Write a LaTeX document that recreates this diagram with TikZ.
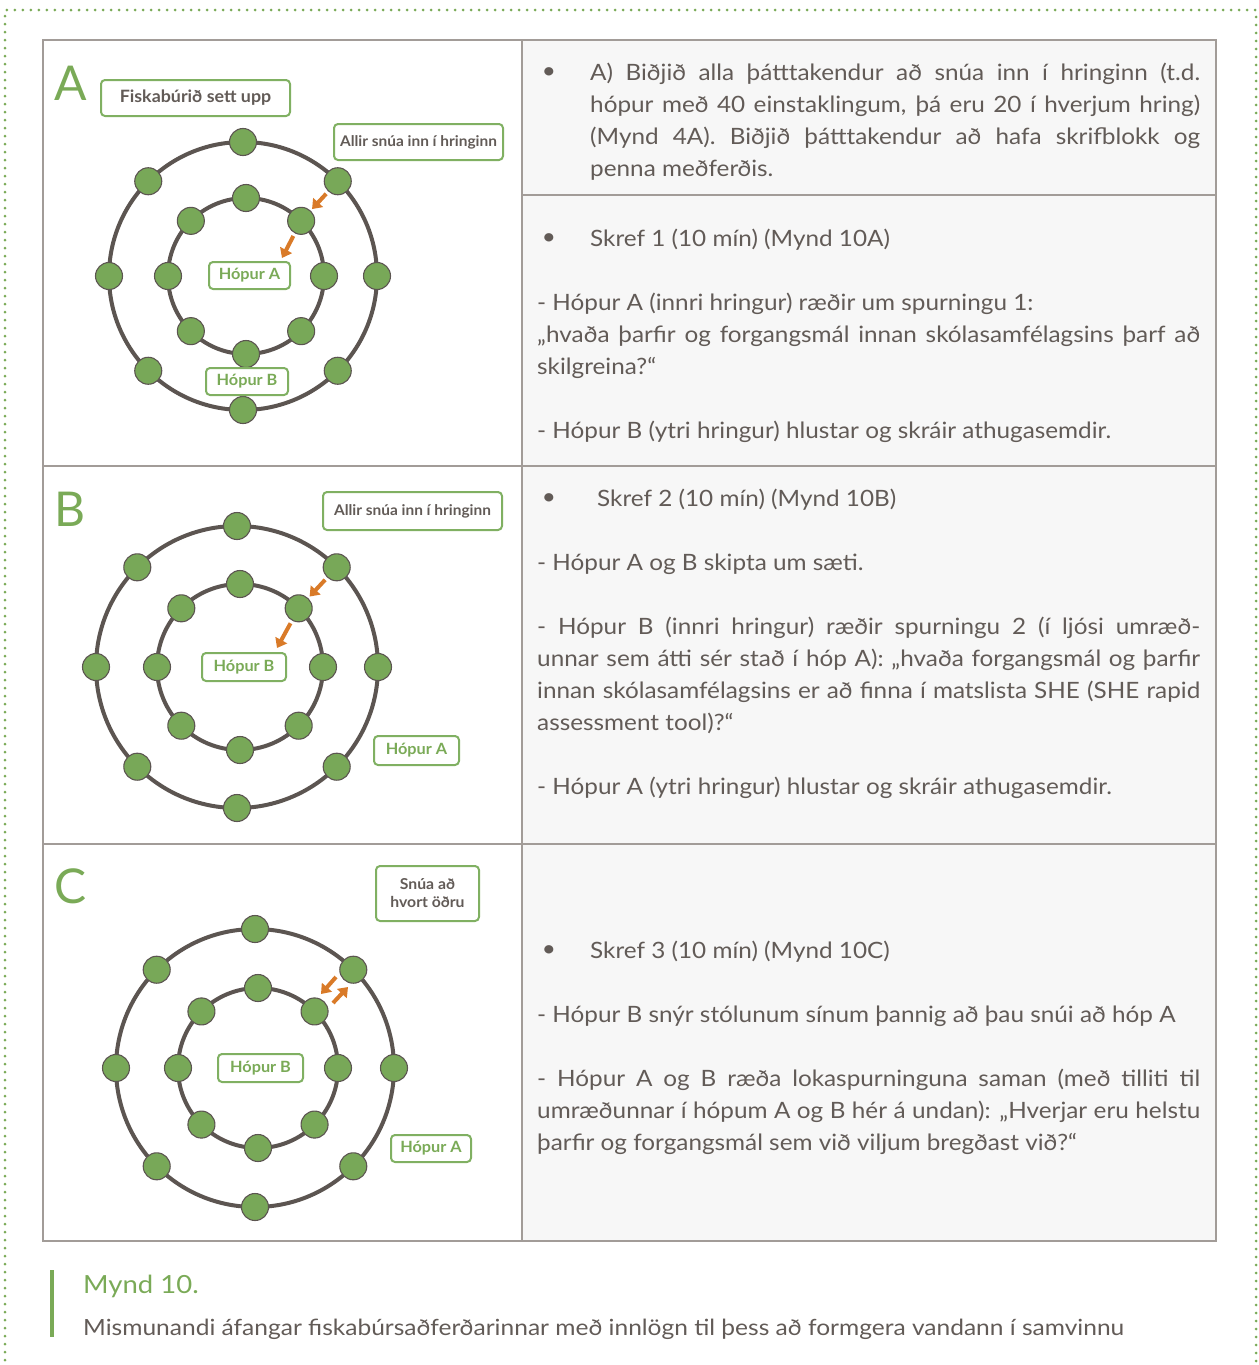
\documentclass[tikz,border=0pt]{standalone}
\usepackage{fontspec}
\setmainfont{Lato}
\newfontfamily\bodyfont[FakeStretch=1.08]{Lato}
\newfontfamily\capfont[FakeStretch=1.1]{Lato}
\newfontfamily\lblfont[FakeStretch=1.05]{Lato}
\usetikzlibrary{arrows.meta,calc}
\definecolor{grn}{HTML}{7AAA57}
\definecolor{seatc}{HTML}{78A858}
\definecolor{ringc}{HTML}{5C5551}
\definecolor{txt}{HTML}{625B57}
\definecolor{org}{HTML}{D97A28}
\definecolor{framec}{HTML}{A29C98}
\definecolor{panelc}{HTML}{F7F7F7}
\definecolor{lblc}{HTML}{80B062}
\tikzset{
  ringline/.style={draw=ringc, line width=4pt},
  seat/.style={circle, fill=seatc, draw=ringc, line width=1.1pt, minimum size=27pt, inner sep=0pt},
  oarrow/.style={draw=org, line width=4pt, -{Triangle[width=13pt,length=9pt]}},
  lblbox/.style={draw=lblc, line width=2pt, rounded corners=4pt, fill=white, inner sep=0pt, align=center},
  graylbl/.style={lblbox, text=txt, font=\lblfont\bfseries\fontsize{14.7}{18}\selectfont},
  grnlbl/.style={lblbox, text=grn, font=\lblfont\bfseries\fontsize{15.5}{18}\selectfont},
  bigletter/.style={text=grn, font=\fontsize{48}{50}\selectfont, inner sep=0pt},
  body/.style={text=txt, font=\bodyfont\fontsize{22.5}{26}\selectfont, inner sep=0pt, anchor=base west},
  bul/.style={text=txt, font=\bodyfont\fontsize{22.5}{26}\selectfont, inner sep=0pt},
  framel/.style={draw=framec, line width=1.5pt}
}
\newcommand\fishring[4]{%
  \draw[ringline] (#2,#3) circle[radius=#4pt];
  \foreach \k in {0,...,7} {
    \node[seat] (#1\k) at ($(#2,#3)+(\k*45:#4)$) {};
  }%
}
\newcommand\jl[2]{\makebox[#1pt][s]{#2}}
\begin{document}
\begin{tikzpicture}[x=1pt,y=-1pt]
\useasboundingbox (0,0) rectangle (1258,1365);
% dotted outer frame
\draw[grn, line width=3pt, line cap=round, dash pattern=on 0pt off 8pt] (5,1400) -- (5,10) -- (1256,10) -- (1256,1400);
% table
\fill[panelc] (522,40) rectangle (1216,1241);
\draw[framel] (43,40) rectangle (1216,1241);
\draw[framel] (522,40) -- (522,1241);
\draw[framel] (43,466) -- (1216,466);
\draw[framel] (43,844) -- (1216,844);
\draw[framel] (522,195) -- (1216,195);

% ---------------- Panel A
\node[bigletter] (LA) at (71,83) {A};
\node[graylbl, font=\lblfont\bfseries\fontsize{17}{18}\selectfont, minimum width=189pt, minimum height=36pt] (fA) at (195.5,98) {Fiskabúrið sett upp};
\node[graylbl, minimum width=169pt, minimum height=36pt] (aA) at (418.5,142) {Allir snúa inn í hringinn};
\fishring{Ao}{243}{276}{134}
\fishring{Ai}{246}{276}{78}
\node[grnlbl, minimum width=81pt, minimum height=27pt] (hAA) at (249.5,275.5) {Hópur A};
\node[grnlbl, minimum width=82pt, minimum height=27pt] (hBA) at (247,381.5) {Hópur B};
\draw[oarrow, shorten <=3pt, shorten >=2pt] (Ao7) -- (Ai7);
\coordinate (tA) at (282,258);
\draw[oarrow, shorten <=3pt] (Ai7) -- (tA);

% ---------------- Panel B
\node[bigletter] (LB) at (70,509) {B};
\node[graylbl, minimum width=179pt, minimum height=38pt] (aB) at (412.5,511) {Allir snúa inn í hringinn};
\fishring{Bo}{237}{667}{141}
\fishring{Bi}{240}{667}{83}
\node[grnlbl, minimum width=84pt, minimum height=28pt] (hBB) at (244,667) {Hópur B};
\node[grnlbl, minimum width=85pt, minimum height=29pt] (hAB) at (416.5,750.5) {Hópur A};
\draw[oarrow, shorten <=3pt, shorten >=2pt] (Bo7) -- (Bi7);
\coordinate (tB) at (277,648);
\draw[oarrow, shorten <=3pt] (Bi7) -- (tB);

% ---------------- Panel C
\node[bigletter] (LC) at (71,886) {C};
\node[graylbl, font=\lblfont\bfseries\fontsize{15}{18}\selectfont, minimum width=103pt, minimum height=55pt] (sC) at (427.5,893.5) {Snúa að\\hvort öðru};
\fishring{Co}{255}{1068}{139}
\fishring{Ci}{258}{1068}{80}
\node[grnlbl, minimum width=85pt, minimum height=28pt] (hBC) at (260.5,1068) {Hópur B};
\node[grnlbl, minimum width=80pt, minimum height=27pt] (hAC) at (431,1148.5) {Hópur A};
\coordinate (c1s) at (336,977);
\coordinate (c1e) at (321,994);
\coordinate (c2s) at (333,1003);
\coordinate (c2e) at (348,987);
\draw[oarrow] (c1s) -- (c1e);
\draw[oarrow] (c2s) -- (c2e);

% ---------------- Right column text
\node[bul] (b1) at (549,73) {•};
\node[body] (t1) at (590,80) {\jl{610}{A) Biðjið alla þátttakendur að snúa inn í hringinn (t.d.}};
\node[body] (t2) at (590,112) {\jl{610}{hópur með 40 einstaklingum, þá eru 20 í hverjum hring)}};
\node[body] (t3) at (590,144) {\jl{610}{(Mynd 4A). Biðjið þátttakendur að hafa skrifblokk og}};
\node[body] (t4) at (590,176) {penna meðferðis.};

\node[bul] (b2) at (549,239) {•};
\node[body] (s1) at (590,246) {Skref 1 (10 mín) (Mynd 10A)};
\node[body] (s1a) at (537,310) {- Hópur A (innri hringur) ræðir um spurningu 1:};
\node[body] (s1b) at (537,342) {\jl{663}{„hvaða þarfir og forgangsmál innan skólasamfélagsins þarf að}};
\node[body] (s1c) at (537,374) {skilgreina?“};
\node[body] (s1d) at (537,438) {- Hópur B (ytri hringur) hlustar og skráir athugasemdir.};

\node[bul] (b3) at (549,499) {•};
\node[body] (s2) at (597,506) {Skref 2 (10 mín) (Mynd 10B)};
\node[body] (s2a) at (537,570) {- Hópur A og B skipta um sæti.};
\node[body] (s2b) at (537,634) {\jl{663}{- Hópur B (innri hringur) ræðir spurningu 2 (í ljósi umræð-}};
\node[body] (s2c) at (537,666) {\jl{663}{unnar sem átti sér stað í hóp A): „hvaða forgangsmál og þarfir}};
\node[body] (s2d) at (537,698) {\jl{663}{innan skólasamfélagsins er að finna í matslista SHE (SHE rapid}};
\node[body] (s2e) at (537,730) {assessment tool)?“};
\node[body] (s2f) at (537,794) {- Hópur A (ytri hringur) hlustar og skráir athugasemdir.};

\node[bul] (b4) at (549,951) {•};
\node[body] (s3) at (590,958) {Skref 3 (10 mín) (Mynd 10C)};
\node[body] (s3a) at (537,1022) {- Hópur B snýr stólunum sínum þannig að þau snúi að hóp A};
\node[body] (s3b) at (537,1086) {\jl{663}{- Hópur A og B ræða lokaspurninguna saman (með tilliti til}};
\node[body] (s3c) at (537,1118) {\jl{663}{umræðunnar í hópum A og B hér á undan): „Hverjar eru helstu}};
\node[body] (s3d) at (537,1150) {þarfir og forgangsmál sem við viljum bregðast við?“};

% ---------------- Caption
\fill[grn] (50,1270) rectangle (54,1337);
\node[anchor=base west, inner sep=0pt, text=grn, font=\capfont\fontsize{25}{28}\selectfont] (cap1) at (83,1293) {Mynd 10.};
\node[anchor=base west, inner sep=0pt, text=txt, font=\capfont\fontsize{22.3}{26}\selectfont] (cap2) at (83,1335) {Mismunandi áfangar fiskabúrsaðferðarinnar með innlögn til þess að formgera vandann í samvinnu};
\end{tikzpicture}
\end{document}
